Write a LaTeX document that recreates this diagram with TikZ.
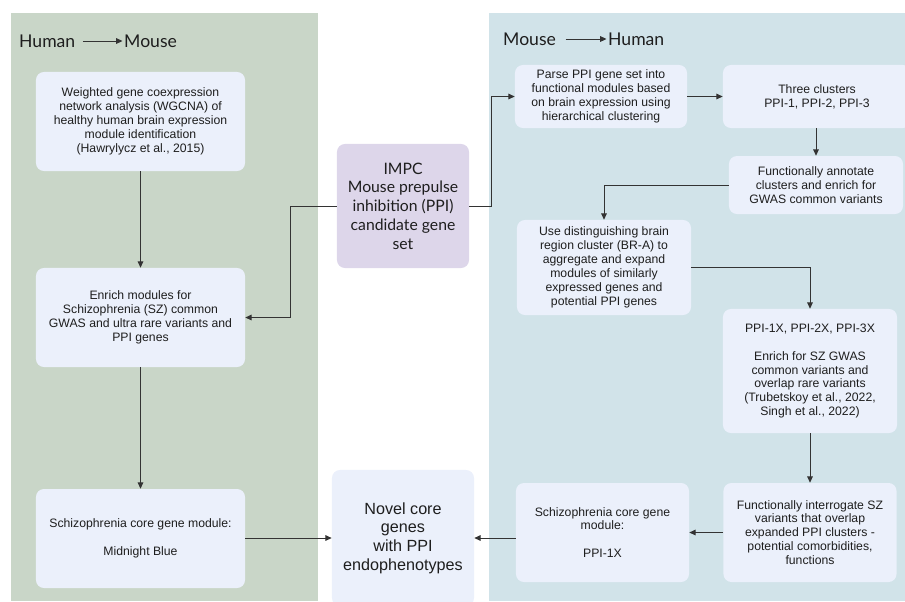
\documentclass[tikz,border=0pt]{standalone}
\usepackage{fontspec}
\setmainfont{Liberation Sans}
\newfontfamily\latofont{Lato}
\usepackage{xcolor}
\usepackage{tikz}
\usetikzlibrary{arrows.meta}
\definecolor{humancolor}{HTML}{C9D6C8}
\definecolor{mousecolor}{HTML}{D1E3E9}
\definecolor{boxcolor}{HTML}{EBF0FB}
\definecolor{impccolor}{HTML}{DDD6EA}
\definecolor{linecolor}{HTML}{333333}
\definecolor{textcolor}{HTML}{1E1E1E}
\tikzset{
  stepbox/.style={rectangle, rounded corners=0.2cm, fill=boxcolor, inner sep=0pt, align=center, text=textcolor, font=\fontsize{8.7pt}{9.9pt}\selectfont},
  headtext/.style={anchor=west, inner sep=1pt, text=textcolor, font=\latofont\fontsize{12.5pt}{15pt}\selectfont},
  arr/.style={draw=linecolor, line width=0.7pt, -{Triangle[length=4.5pt,width=4pt]}},
}

\begin{document}
\begin{tikzpicture}[x=0.025cm, y=-0.025cm]%
\useasboundingbox (0,0) rectangle (905,601);%
% panels
\fill[humancolor] (11,13) rectangle (318,601);%
\fill[mousecolor] (489,13) rectangle (905,601);%
% headings
\node[headtext] (hm1) at (17.5,41) {Human};%
\node[headtext] (hm2) at (122.5,41) {Mouse};%
\draw[arr] (hm1.east) ++(6,0) -- (hm2.west);%
\node[headtext] (mh1) at (501.5,39) {Mouse};%
\node[headtext] (mh2) at (606.5,39) {Human};%
\draw[arr] (mh1.east) ++(8,0) -- (mh2.west);%
% human to mouse
\node[stepbox, minimum width=5.225cm, minimum height=2.475cm] (l1) at (140.5,121.5) {Weighted gene coexpression\\network analysis (WGCNA) of\\healthy human brain expression\\module identification\\(Hawrylycz et al., 2015)};%
\node[stepbox, minimum width=5.225cm, minimum height=2.475cm] (l2) at (140.5,317.5) {Enrich modules for\\Schizophrenia (SZ) common\\GWAS and ultra rare variants and\\PPI genes};%
\node[stepbox, minimum width=5.225cm, minimum height=2.475cm] (l3) at (140.5,538.5) {Schizophrenia core gene module:\\[9.9pt]Midnight Blue};%
% middle
\node[stepbox, fill=impccolor, minimum width=3.3cm, minimum height=3.1cm, font=\latofont\fontsize{11.2pt}{13.3pt}\selectfont] (impc) at (403,206) {IMPC\\Mouse prepulse\\inhibition (PPI)\\candidate gene\\set};%
\node[stepbox, minimum width=3.55cm, minimum height=3.4cm, font=\fontsize{11.5pt}{13.3pt}\selectfont] (novel) at (403,538) {Novel core\\genes\\with PPI\\endophenotypes};%
% mouse to human
\node[stepbox, minimum width=4.3cm, minimum height=1.575cm] (r1) at (601,96.5) {Parse PPI gene set into\\functional modules based\\on brain expression using\\hierarchical clustering};%
\node[stepbox, minimum width=4.7cm, minimum height=1.575cm] (r2) at (817,96.5) {Three clusters\\PPI-1, PPI-2, PPI-3};%
\node[stepbox, minimum width=4.35cm, minimum height=1.45cm] (r3) at (816,185) {Functionally annotate\\clusters and enrich for\\GWAS common variants};%
\node[stepbox, minimum width=4.35cm, minimum height=2.375cm] (r4) at (604,267.5) {Use distinguishing brain\\region cluster (BR-A) to\\aggregate and expand\\modules of similarly\\expressed genes and\\potential PPI genes};%
\node[stepbox, minimum width=4.35cm, minimum height=3.1cm] (r5) at (810,371) {PPI-1X, PPI-2X, PPI-3X\\[9.9pt]Enrich for SZ GWAS\\common variants and\\overlap rare variants\\(Trubetskoy et al., 2022,\\Singh et al., 2022)};%
\node[stepbox, minimum width=4.325cm, minimum height=2.475cm] (r6) at (602.5,532.5) {Schizophrenia core gene\\module:\\[9.9pt]PPI-1X};%
\node[stepbox, minimum width=4.325cm, minimum height=2.475cm] (r7) at (810,532.5) {Functionally interrogate SZ\\variants that overlap\\expanded PPI clusters -\\potential comorbidities,\\functions};%
% connectors
\draw[arr] (l1) -- (l2);%
\draw[arr] (l2) -- (l3);%
\draw[arr] (l3.east |- novel) -- (novel.west);%
\draw[arr] (impc.west) -- ++(-46,0) |- (l2.east);%
\draw[arr] (impc.east) -- ++(22,0) |- (r1.west);%
\draw[arr] (r1.east) -- (r2.west);%
\draw[arr] (r3.north |- r2.south) -- (r3.north);%
\draw[arr] (r3.west) -| (r4.north);%
\draw[arr] (r4.east) -| (r5.north);%
\draw[arr] (r5.south) -- (r7.north);%
\draw[arr] (r7.west) -- (r6.east);%
\draw[arr] (r6.west |- novel) -- (novel.east);%
\end{tikzpicture}
\end{document}
